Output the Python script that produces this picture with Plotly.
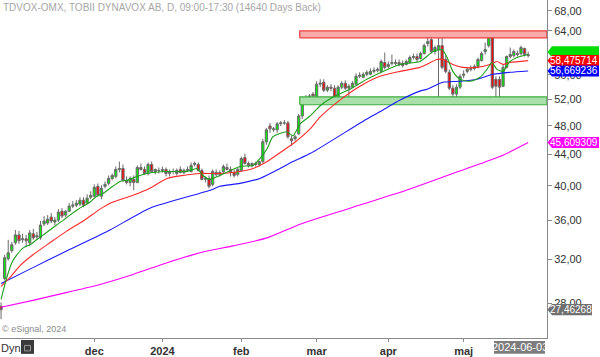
import math
import plotly.graph_objects as go

# ---------------- data ----------------
OPEN = [27.75, 30.19, 32.05, 32.84, 33.64, 34.46, 33.95, 34.05, 33.64, 34.57,
        34.25, 34.15, 35.62, 35.72, 36.37, 35.83, 36.04, 37.03, 36.59, 37.03,
        37.60, 37.71, 37.83, 38.28, 37.94, 38.63, 38.75, 39.93, 38.75, 39.93,
        40.29, 40.90, 41.15, 42.03, 42.15, 40.66, 40.41, 40.78, 40.41, 42.28,
        42.03, 41.52, 42.67, 41.77, 41.90, 41.90, 42.03, 41.52, 41.77, 41.90,
        42.03, 41.65, 41.90, 41.77, 42.67, 42.67, 41.90, 40.78, 40.90, 40.17,
        41.65, 41.40, 41.77, 42.28, 42.03, 41.65, 41.40, 41.90, 43.57, 42.80,
        42.54, 42.80, 42.67, 43.05, 45.71, 47.96, 47.40, 47.40, 48.27, 48.41,
        48.41, 46.13, 46.13, 46.83, 49.44, 52.03, 52.35, 52.83, 52.35, 54.44,
        54.77, 53.46, 53.95, 53.79, 52.35, 53.95, 54.60, 53.79, 53.95, 54.44,
        55.76, 55.59, 56.10, 56.10, 56.60, 56.77, 56.60, 58.14, 57.46, 57.98,
        57.98, 58.14, 57.98, 57.81, 58.14, 59.03, 59.21, 58.86, 59.75, 61.58,
        62.32, 60.11, 60.47, 61.21, 58.68, 56.44, 53.79, 52.83, 53.95, 55.93,
        56.60, 56.94, 57.11, 57.46, 58.50, 60.11, 61.21, 63.27, 55.26, 55.26,
        54.11, 57.29, 59.21, 59.39, 59.75, 59.75, 60.66, 59.57]
HIGH = [28.08, 32.44, 33.95, 33.74, 34.98, 34.88, 34.57, 34.46, 34.98, 35.09,
        34.77, 35.94, 36.48, 36.59, 36.81, 36.37, 37.26, 37.37, 37.14, 37.94,
        38.17, 38.28, 38.63, 38.63, 38.98, 39.33, 40.17, 40.29, 40.05, 40.53,
        41.27, 41.52, 42.41, 43.05, 42.67, 41.15, 41.15, 41.27, 42.54, 42.80,
        42.41, 42.93, 43.05, 42.15, 42.28, 42.41, 42.28, 42.03, 42.15, 42.15,
        42.41, 42.15, 42.41, 42.93, 43.05, 42.93, 42.15, 41.15, 41.27, 42.03,
        42.03, 41.90, 42.67, 42.80, 42.41, 42.03, 42.28, 43.70, 44.10, 43.05,
        42.93, 43.05, 43.18, 46.13, 47.68, 48.41, 47.82, 48.55, 48.70, 48.84,
        48.70, 46.55, 46.69, 49.74, 52.35, 52.67, 52.83, 53.15, 54.93, 55.26,
        55.26, 54.28, 54.44, 54.28, 54.28, 54.93, 55.09, 54.44, 54.93, 56.27,
        56.44, 56.44, 56.77, 57.11, 57.29, 57.29, 58.68, 59.93, 58.32, 59.57,
        58.68, 58.68, 58.50, 58.68, 59.39, 59.75, 59.75, 60.11, 61.58, 63.08,
        63.46, 61.21, 62.70, 62.70, 59.39, 56.94, 54.28, 54.44, 56.10, 56.77,
        57.29, 57.63, 57.81, 59.03, 60.11, 61.76, 63.65, 64.03, 55.76, 55.76,
        57.81, 59.39, 60.84, 60.47, 60.29, 61.21, 60.84, 60.11]
LOW = [26.68, 30.01, 31.86, 32.64, 33.44, 33.54, 33.64, 33.23, 33.33, 33.95,
       33.95, 33.95, 35.40, 35.51, 35.72, 35.51, 35.83, 36.26, 36.37, 36.93,
       37.37, 37.48, 37.60, 37.48, 37.83, 38.40, 38.63, 38.75, 38.40, 39.69,
       40.05, 40.66, 40.90, 41.65, 40.53, 40.17, 39.93, 39.45, 40.29, 41.90,
       41.40, 41.27, 41.65, 41.40, 41.52, 41.65, 41.15, 41.15, 41.40, 41.27,
       41.52, 41.40, 41.77, 41.65, 42.41, 41.77, 40.66, 40.41, 39.69, 39.93,
       41.15, 41.15, 41.52, 41.90, 41.15, 41.02, 41.15, 41.77, 42.67, 42.28,
       42.28, 42.41, 42.41, 42.80, 45.31, 46.97, 47.12, 46.97, 47.96, 48.12,
       46.13, 45.17, 45.85, 46.69, 48.99, 51.88, 51.72, 52.19, 52.03, 53.95,
       53.15, 53.15, 53.31, 51.57, 52.03, 53.62, 53.46, 52.03, 53.79, 54.28,
       55.43, 55.43, 55.76, 55.93, 56.27, 56.44, 56.44, 56.94, 57.11, 57.63,
       57.63, 57.46, 57.29, 57.63, 57.98, 58.68, 58.14, 58.68, 59.57, 61.02,
       59.75, 59.57, 51.26, 56.94, 56.27, 53.46, 51.57, 52.35, 53.62, 55.43,
       56.27, 56.60, 56.77, 57.11, 58.32, 59.57, 60.84, 53.62, 52.19, 52.19,
       53.95, 57.11, 58.86, 59.03, 59.21, 59.39, 59.21, 59.03]
CLOSE = [27.46, 32.15, 32.64, 33.44, 34.46, 33.85, 34.05, 33.85, 34.67, 34.15,
         34.36, 35.51, 35.94, 36.15, 35.94, 36.04, 36.93, 36.48, 37.03, 37.60,
         37.71, 37.94, 38.28, 37.71, 38.51, 38.86, 39.81, 38.86, 39.69, 40.17,
         40.90, 41.27, 42.03, 42.15, 40.66, 40.41, 40.90, 40.41, 42.28, 42.03,
         41.52, 42.67, 41.77, 42.03, 41.90, 42.03, 41.52, 41.77, 41.77, 41.52,
         41.65, 41.90, 42.03, 42.54, 42.80, 41.90, 40.78, 40.90, 39.93, 41.77,
         41.40, 41.65, 42.41, 42.03, 41.65, 41.27, 42.03, 43.44, 42.80, 42.54,
         42.80, 42.67, 43.05, 45.71, 47.40, 47.54, 47.54, 48.27, 48.41, 48.41,
         46.41, 45.85, 46.41, 49.44, 52.03, 52.19, 52.51, 52.51, 54.44, 54.60,
         53.46, 53.95, 53.79, 52.35, 53.95, 54.60, 53.79, 54.11, 54.60, 55.76,
         55.93, 56.10, 56.44, 56.60, 56.77, 56.94, 58.32, 57.29, 57.81, 58.14,
         58.14, 57.81, 57.63, 58.32, 59.03, 59.21, 58.68, 59.75, 61.21, 61.95,
         60.11, 60.84, 61.21, 57.29, 56.60, 53.79, 52.83, 53.95, 55.76, 56.10,
         56.94, 57.11, 57.46, 58.68, 59.75, 60.47, 63.27, 53.95, 54.11, 53.95,
         57.29, 59.21, 59.57, 60.11, 59.57, 60.84, 59.57, 59.39]
BAR_INDEX = list(range(len(CLOSE)))          # trading-day index

# x-axis month labels (trading-day index of the first bar in each month)
MONTH_INDEX = [26, 45, 67, 88, 108, 129]
MONTH_TEXT = ["dec", "2024", "feb", "mar", "apr", "maj"]

# y-axis ticks
PRICE_TICKS = [28, 32, 36, 40, 44, 48, 52, 56, 60, 64, 68]
PRICE_TICK_TEXT = ["28,00", "32,00", "36,00", "40,00", "44,00", "48,00",
                   "52,00", "56,00", "60,00", "64,00", "68,00"]

# moving averages, read at sample bars
MA_SHORT_X = [0, 1.6, 3, 4.4, 6.2, 8.1, 9.9, 11.8, 13.6, 15.5, 17.4, 19.2, 21.1,
              22.9, 24.8, 26.7, 28.5, 30.4, 33.2, 35.1, 37.9, 40.7, 46.3, 51.9,
              54.6, 56.3, 58.3, 61, 66.6, 70.3, 72.2, 74.2, 75.8, 79.7, 81.4,
              83.4, 86.2, 89, 92.6, 97.3, 102, 106.5, 111.3, 116.8, 120.5, 123,
              124.4, 126, 128, 130.8, 133.6, 135.5, 136.9, 138.3, 140, 141.9,
              144.7, 147]
MA_SHORT_Y = [28.34, 30.28, 31.67, 32.44, 33.13, 33.44, 33.95, 34.46, 34.98,
              35.51, 36.04, 36.59, 37.14, 37.60, 38.05, 38.75, 39.09, 39.69,
              40.53, 40.66, 41.15, 41.52, 41.77, 41.77, 42.15, 41.27, 40.78,
              41.27, 42.41, 42.54, 43.44, 44.76, 46.41, 47.12, 46.55, 48.27,
              49.44, 51.00, 52.35, 53.62, 55.26, 56.60, 57.81, 58.32, 60.11,
              60.47, 59.03, 56.60, 55.26, 54.93, 55.59, 56.94, 58.14, 56.94,
              56.60, 58.32, 59.21, 59.57]
MA_MID_X = [0, 2.5, 5.3, 8.9, 13.6, 18.4, 22.9, 27.6, 30.4, 36.8, 41.5, 46.3,
            50.7, 55.5, 61, 66.6, 70.3, 74.2, 78.6, 81.4, 86.2, 89, 94.5, 100.1,
            105.7, 111.3, 116.8, 121.6, 123.2, 126, 128.8, 132.7, 136.3, 138.3,
            140, 141.9, 147]
MA_MID_Y = [29.47, 30.28, 31.39, 32.44, 33.64, 34.88, 35.94, 37.26, 37.94,
            38.86, 39.69, 40.90, 41.27, 41.52, 41.52, 41.77, 42.15, 43.05,
            44.49, 45.44, 47.54, 49.29, 51.88, 54.11, 55.76, 56.60, 57.29,
            58.68, 58.68, 57.81, 57.29, 57.29, 57.81, 58.32, 57.81, 58.14,
            58.48]
MA_LONG_X = [0, 8.9, 18.4, 30.4, 41.5, 58.3, 61, 66.6, 72.2, 77.8, 81.4, 86.2,
             102, 106.5, 111.3, 116.8, 118.8, 123.2, 128, 132.7, 137.2, 141.9,
             147]
MA_LONG_Y = [29.74, 31.20, 32.84, 34.98, 37.37, 39.45, 39.93, 40.29, 40.90,
             42.15, 43.05, 44.10, 48.99, 50.34, 51.88, 53.31, 53.62, 54.77,
             54.93, 55.26, 56.10, 56.44, 56.67]
MA_200_X = [0, 8.9, 18.4, 27.6, 36.8, 46.3, 55.5, 64.7, 74.2, 83.4, 97.3,
            111.3, 125.2, 139.1, 147]
MA_200_Y = [27.66, 28.25, 28.94, 29.65, 30.56, 31.67, 32.64, 33.33, 34.15,
            35.60, 37.37, 39.21, 41.40, 43.70, 45.61]

RESIST_ZONE = [62.66, 64.00]
SUPPORT_ZONE = [51.15, 52.39]
ZONE_START = 83.3

# right-hand value labels: (text, value, colour)
VALUE_LABELS = [
    ("", 60.05, "#00dd00"),
    ("58,475714", 58.475714, "#ff0000"),
    ("56,669236", 56.669236, "#0000ff"),
    ("45,609309", 45.609309, "#ff00ff"),
    ("27,46268", 27.46268, "#707070"),
]

TITLE = "TDVOX-OMX, TOBII DYNAVOX AB, D, 09:00-17:30 (14640 Days Back)"

# ---------------- geometry ----------------
W, H = 547, 341
X_RANGE = [-0.293, 152.25]
Y_RANGE = [1.4014, 1.8469]          # log10 of 25.2 .. 70.3


def py_of(v):
    return H * (Y_RANGE[1] - math.log10(v)) / (Y_RANGE[1] - Y_RANGE[0])


def pxp(px):
    return px / W


def pyp(py):
    return 1 - py / H


fig = go.Figure()

# zones
for (lo, hi), fill, edge in [(RESIST_ZONE, "#f9aaaa", "#ee3b3b"),
                             (SUPPORT_ZONE, "#aadfaa", "#3cae3c")]:
    fig.add_trace(go.Scatter(
        x=[ZONE_START, X_RANGE[1], X_RANGE[1], ZONE_START, ZONE_START],
        y=[lo, lo, hi, hi, lo], mode="lines", fill="toself",
        fillcolor=fill, line=dict(color=edge, width=1.2),
        hoverinfo="skip", showlegend=False))

fig.add_trace(go.Candlestick(
    x=BAR_INDEX, open=OPEN, high=HIGH, low=LOW, close=CLOSE,
    increasing=dict(line=dict(color="#6a6a6a", width=1), fillcolor="#00ee00"),
    decreasing=dict(line=dict(color="#6a6a6a", width=1), fillcolor="#ff0000"),
    whiskerwidth=0, showlegend=False, hoverinfo="skip"))

for xs, ys, col in [(MA_200_X, MA_200_Y, "#ff00ff"),
                    (MA_LONG_X, MA_LONG_Y, "#1a1aff"),
                    (MA_MID_X, MA_MID_Y, "#ff2a2a"),
                    (MA_SHORT_X, MA_SHORT_Y, "#1e9e1e")]:
    fig.add_trace(go.Scatter(x=xs, y=ys, mode="lines",
                             line=dict(color=col, width=1.1, shape="spline", smoothing=0.6),
                             hoverinfo="skip", showlegend=False))

shapes = []
annotations = []
for text, val, col in VALUE_LABELS:
    yc = py_of(val)
    x0, x1 = 552, 599
    if text and col == "#707070":
        x1 = 592
    h = 5.6
    path = "M {} {} L {} {} L {} {} L {} {} L {} {} Z".format(
        pxp(547.5), pyp(yc), pxp(x0), pyp(yc - h), pxp(x1), pyp(yc - h),
        pxp(x1), pyp(yc + h), pxp(x0), pyp(yc + h))
    shapes.append(dict(type="path", path=path, xref="paper", yref="paper",
                       fillcolor=col, line=dict(width=0), layer="above"))
    if text:
        annotations.append(dict(text=text, xref="paper", yref="paper",
                                x=pxp(549), y=pyp(yc), xanchor="left", yanchor="middle",
                                showarrow=False, borderpad=0,
                                font=dict(family="Arial, Liberation Sans", size=10, color="white")))

# date box and lock icon at bottom
shapes.append(dict(type="rect", xref="paper", yref="paper",
                   x0=pxp(494), x1=pxp(545), y0=pyp(344), y1=pyp(357),
                   fillcolor="#7d7d7d", line=dict(width=0), layer="above"))
shapes.append(dict(type="rect", xref="paper", yref="paper",
                   x0=pxp(21), x1=pxp(34), y0=pyp(343), y1=pyp(357),
                   fillcolor="#3a3a3a", line=dict(width=0), layer="above"))
shapes.append(dict(type="rect", xref="paper", yref="paper",
                   x0=pxp(24.5), x1=pxp(30.5), y0=pyp(348.5), y1=pyp(354),
                   fillcolor="#3a3a3a", line=dict(color="#9a9a9a", width=1), layer="above"))

annotations += [
    dict(text=TITLE, xref="paper", yref="paper", x=pxp(1), y=pyp(0.5),
         xanchor="left", yanchor="top", showarrow=False,
         font=dict(family="Arial, Liberation Sans", size=10, color="#a6a6a6")),
    dict(text="© eSignal, 2024", xref="paper", yref="paper", x=pxp(0), y=pyp(332),
         xanchor="left", yanchor="middle", showarrow=False,
         font=dict(family="Arial, Liberation Sans", size=9, color="#8c8c8c")),
    dict(text="Dyn", xref="paper", yref="paper", x=pxp(0), y=pyp(351),
         xanchor="left", yanchor="middle", showarrow=False, borderpad=0,
         font=dict(family="Arial, Liberation Sans", size=11, color="#333333")),
    dict(text="2024-06-03", xref="paper", yref="paper", x=pxp(519.5), y=pyp(350.5),
         xanchor="center", yanchor="middle", showarrow=False,
         font=dict(family="Arial, Liberation Sans", size=11, color="white")),
]

fig.update_layout(
    width=600, height=357,
    margin=dict(l=0, r=53, t=0, b=16, pad=0),
    paper_bgcolor="white", plot_bgcolor="white",
    showlegend=False,
    shapes=shapes, annotations=annotations,
    boxgap=0.1,
    xaxis=dict(range=X_RANGE, tickmode="array", tickvals=MONTH_INDEX, ticktext=MONTH_TEXT,
               ticks="outside", ticklen=3, tickcolor="#8a8a8a", showline=True,
               linecolor="#8a8a8a", linewidth=1, showgrid=False, zeroline=False,
               rangeslider=dict(visible=False),
               tickfont=dict(family="Arial, Liberation Sans", size=11, color="#333333", weight="bold")),
    yaxis=dict(type="log", range=Y_RANGE, side="right", tickmode="array",
               tickvals=PRICE_TICKS, ticktext=PRICE_TICK_TEXT,
               ticks="outside", ticklen=4, tickcolor="#8a8a8a", showline=True,
               linecolor="#8a8a8a", linewidth=1, showgrid=False, zeroline=False,
               tickfont=dict(family="Arial, Liberation Sans", size=11, color="#333333")),
)

fig.write_html("out.html", config={"displayModeBar": False},
               post_script="document.body.style.margin='0';document.body.style.overflow='hidden';")
